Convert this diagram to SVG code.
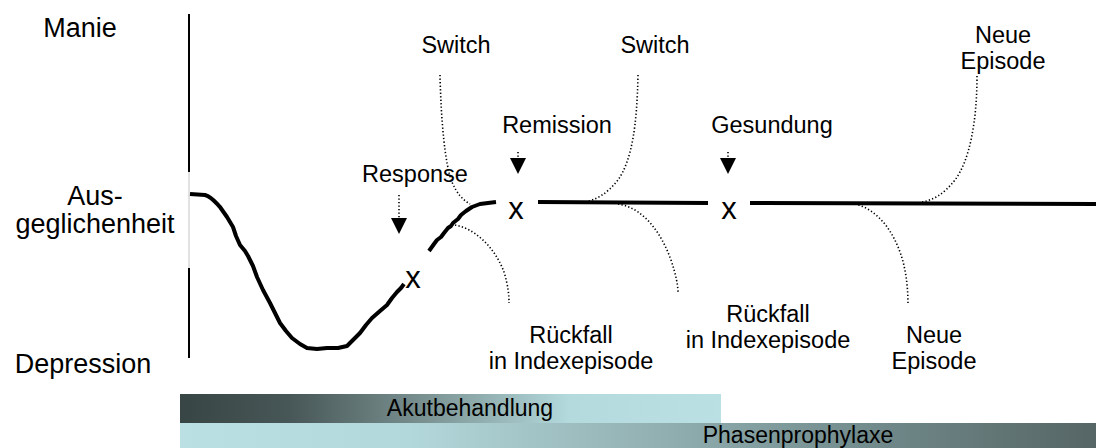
<svg xmlns="http://www.w3.org/2000/svg" width="1096" height="448" viewBox="0 0 1096 448">
<defs>
<linearGradient id="gAkut" x1="0" y1="0" x2="1" y2="0">
<stop offset="0" stop-color="#384545"/>
<stop offset="0.2" stop-color="#475656"/>
<stop offset="0.45" stop-color="#7a9191"/>
<stop offset="0.72" stop-color="#b4dadd"/>
<stop offset="1" stop-color="#bae0e3"/>
</linearGradient>
<linearGradient id="gPhase" x1="0" y1="0" x2="1" y2="0">
<stop offset="0" stop-color="#bae0e3"/>
<stop offset="0.25" stop-color="#b3d8db"/>
<stop offset="0.5" stop-color="#95b3b5"/>
<stop offset="0.75" stop-color="#728b8c"/>
<stop offset="1" stop-color="#566565"/>
</linearGradient>
</defs>
<style>
text{font-family:"Liberation Sans",Arial,sans-serif;fill:#000;text-anchor:middle}
.ax{font-size:27px}
.lb{font-size:23.5px}
.bar{font-size:23px}
.xm{font-size:31px}
.curve{fill:none;stroke:#000;stroke-width:4;stroke-linecap:butt;stroke-linejoin:round}
.dot{fill:none;stroke:#000;stroke-width:1.6;stroke-dasharray:1.3 2.2}
.tri{fill:#000}
</style>
<rect width="1096" height="448" fill="#fff"/>

<g id="axis">
<line x1="189" y1="14" x2="189" y2="172" stroke="#000" stroke-width="2"/>
<line x1="189" y1="172" x2="189" y2="268" stroke="#c4c4c4" stroke-width="1"/>
<line x1="189" y1="268" x2="189" y2="358" stroke="#000" stroke-width="2"/>
</g>

<g id="axis-labels">
<text class="ax" x="80" y="37">Manie</text>
<text class="ax" x="95" y="205">Aus-</text>
<text class="ax" x="95" y="233">geglichenheit</text>
<text class="ax" x="83" y="373">Depression</text>
</g>

<g id="course">
<path class="curve" d="M190,194 L205,195 C212,197 216,203 220,207 L227,217 L233,227 L236,236 L240,245 L245,251 L248,256 L253,266 L257,277 L263,290 L270,303 L275,313 L280,323 L286,331 L292,338 L300,344 L307,348 L317,349 L327,348 L338,348 L347,346 L353,340 L360,333 L366,325 L372,318 L380,311 L387,305 L392,298 L397,292 L401,288 L404,284"/>
<path class="curve" d="M429,251 L434,244 L437,240 L441,237 L444,233 L448,228 L451,226 L453,223 L458,219 L461,215 L466,211 L472,207 L480,204 L488,203 L496,202"/>
<line class="curve" x1="538" y1="202" x2="708" y2="203"/>
<line class="curve" x1="750" y1="203" x2="1096" y2="204"/>
</g>

<g id="marks">
<text class="xm" x="413" y="288">x</text>
<text class="xm" x="516" y="219">x</text>
<text class="xm" x="729" y="219">x</text>
</g>

<g id="connectors">
<path class="dot" d="M399,195 L399,218"/>
<polygon class="tri" points="391,218 407,218 399,234"/>
<path class="dot" d="M518,152 L518,158"/>
<polygon class="tri" points="510,158 526,158 518,174"/>
<path class="dot" d="M728,152 L728,158"/>
<polygon class="tri" points="720,158 736,158 728,174"/>
<path class="dot" d="M440,75 C441,120 445,165 452,182 C457,194 463,200 470,204"/>
<path class="dot" d="M638,75 C637,125 632,160 618,180 C606,195 595,200 585,202"/>
<path class="dot" d="M455,225 C480,230 497,253 504,272 C508,285 509,295 509,303"/>
<path class="dot" d="M618,204 C645,208 662,235 671,260 C676,275 678,285 678,293"/>
<path class="dot" d="M855,204 C880,210 895,235 902,258 C907,275 908,292 908,305"/>
<path class="dot" d="M977,76 C977,120 970,160 955,180 C943,195 933,200 922,202"/>
</g>

<g id="label-switch1"><text class="lb" x="456" y="53">Switch</text></g>
<g id="label-switch2"><text class="lb" x="655" y="53">Switch</text></g>
<g id="label-remission"><text class="lb" x="557" y="133">Remission</text></g>
<g id="label-response"><text class="lb" x="415" y="182">Response</text></g>
<g id="label-gesundung"><text class="lb" x="772" y="133">Gesundung</text></g>
<g id="label-neue-top"><text class="lb" x="1003" y="43">Neue</text><text class="lb" x="1003" y="69">Episode</text></g>
<g id="label-rueckfall1"><text class="lb" x="571" y="343">Rückfall</text><text class="lb" x="571" y="369">in Indexepisode</text></g>
<g id="label-rueckfall2"><text class="lb" x="768" y="322">Rückfall</text><text class="lb" x="768" y="348">in Indexepisode</text></g>
<g id="label-neue-bottom"><text class="lb" x="934" y="343">Neue</text><text class="lb" x="934" y="369">Episode</text></g>

<g id="bar-akut">
<rect x="180" y="394" width="541" height="29" fill="url(#gAkut)"/>
<text class="bar" x="470" y="416">Akutbehandlung</text>
</g>
<g id="bar-phase">
<rect x="180" y="423" width="916" height="25" fill="url(#gPhase)"/>
<text class="bar" x="798" y="443">Phasenprophylaxe</text>
</g>
</svg>
